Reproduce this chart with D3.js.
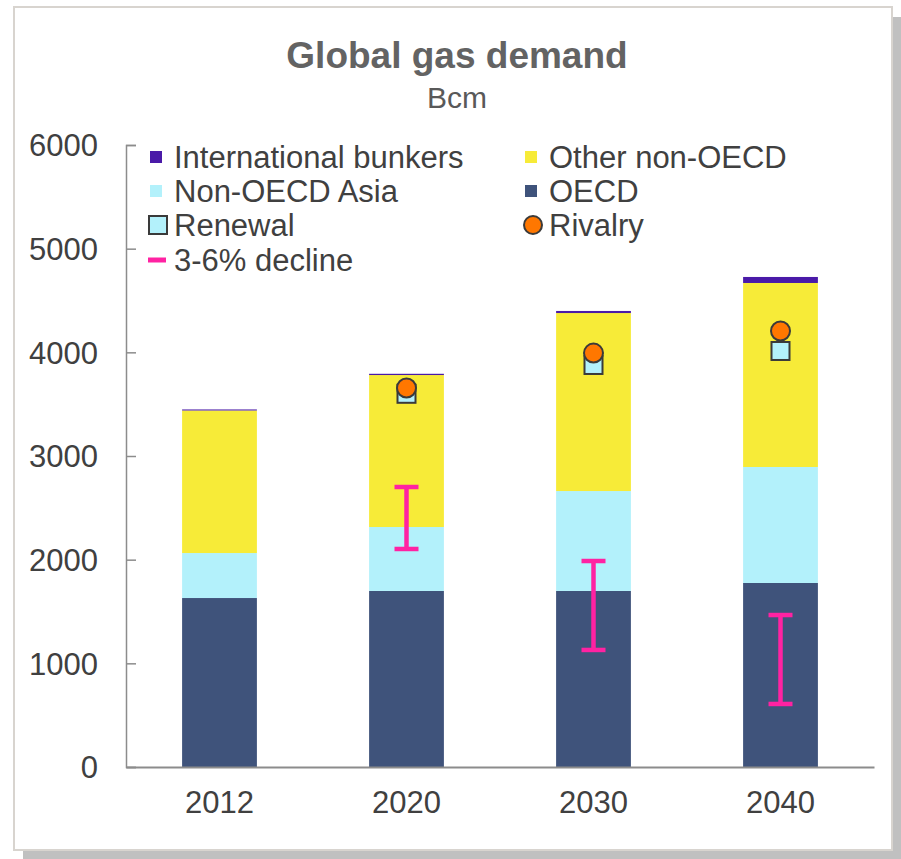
<!DOCTYPE html>
<html>
<head>
<meta charset="utf-8">
<script src="https://cdn.jsdelivr.net/npm/d3@7"></script>
<style>
  html, body { margin: 0; padding: 0; background: #ffffff; }
  svg { display: block; font-family: "Liberation Sans", Arial, sans-serif; }
</style>
</head>
<body>
<svg id="chart" width="901" height="859"></svg>
<script>
// ---- data ----
const years = ["2012", "2020", "2030", "2040"];
const oecd = [1630, 1698, 1698, 1775];
const nonOecdAsia = [434, 617, 964, 1119];
const otherNonOecd = [1375, 1466, 1717, 1775];
const bunkers = [10, 12, 20, 58];
const renewal = [null, 3600, 3878, 4013];
const rivalry = [null, 3656, 3993, 4206];
const declineLow = [null, 2103, 1129, 608];
const declineHigh = [null, 2701, 1987, 1466];
const yTicks = [0, 1000, 2000, 3000, 4000, 5000, 6000];

const seriesNames = ["OECD", "Non-OECD Asia", "Other non-OECD", "International bunkers"];
const seriesColors = ["#3f537b", "#b3f1fb", "#f7eb38", "#4a1aa8"];

const svg = d3.select("#chart");

// frame with shadow
svg.append("rect").attr("x", 23).attr("y", 17).attr("width", 878).attr("height", 842).attr("fill", "#c0c0c0");
svg.append("rect").attr("x", 14).attr("y", 7).attr("width", 878).attr("height", 843)
  .attr("fill", "#ffffff").attr("stroke", "#d8d4cf").attr("stroke-width", 2);

// title
svg.append("text").attr("x", 457).attr("y", 68).attr("text-anchor", "middle")
  .attr("font-size", 37).attr("font-weight", "bold").attr("fill", "#636363").text("Global gas demand");
svg.append("text").attr("x", 457).attr("y", 108).attr("text-anchor", "middle")
  .attr("font-size", 30).attr("fill", "#595959").text("Bcm");

// scales
const x = d3.scaleBand().domain(years).range([126, 874]).paddingInner(0.6).paddingOuter(0.3);
const y = d3.scaleLinear().domain([0, 6000]).range([767, 145]);

// stacked data
const rows = years.map((yr, i) => ({
  year: yr,
  "OECD": oecd[i],
  "Non-OECD Asia": nonOecdAsia[i],
  "Other non-OECD": otherNonOecd[i],
  "International bunkers": bunkers[i]
}));
const stack = d3.stack().keys(seriesNames)(rows);

svg.append("g").selectAll("g").data(stack).join("g")
  .attr("fill", (d, i) => seriesColors[i])
  .selectAll("rect").data(d => d).join("rect")
  .attr("x", d => x(d.data.year))
  .attr("width", x.bandwidth())
  .attr("y", d => y(d[1]))
  .attr("height", d => y(d[0]) - y(d[1]));

// axes
const yAxis = d3.axisLeft(y).tickValues(yTicks).tickSize(-10).tickPadding(28).tickFormat(d3.format("d"));
const gy = svg.append("g").attr("transform", "translate(126,0)").call(yAxis);
gy.select(".domain").attr("stroke", "#8c8c8c").attr("stroke-width", 1.5);
gy.selectAll(".tick line").attr("stroke", "#8c8c8c").attr("stroke-width", 1.5);
gy.selectAll(".tick text").attr("font-size", 31).attr("fill", "#404040")
  .attr("font-family", "Liberation Sans, Arial, sans-serif").attr("dy", "0.35em");

const xAxis = d3.axisBottom(x).tickSize(0).tickPadding(24);
const gx = svg.append("g").attr("transform", "translate(0,767)").call(xAxis);
gx.select(".domain").attr("stroke", "#8c8c8c").attr("stroke-width", 2);
gx.selectAll(".tick text").attr("font-size", 31).attr("fill", "#404040")
  .attr("font-family", "Liberation Sans, Arial, sans-serif").attr("dy", "0.71em");

// error bars (3-6% decline)
const pink = "#ff22a2";
const eb = svg.append("g").attr("stroke", pink).attr("stroke-width", 4.5);
years.forEach((yr, i) => {
  if (declineLow[i] == null) return;
  const cx = x(yr) + x.bandwidth() / 2;
  eb.append("line").attr("x1", cx).attr("x2", cx).attr("y1", y(declineHigh[i])).attr("y2", y(declineLow[i]));
  eb.append("line").attr("x1", cx - 12).attr("x2", cx + 12).attr("y1", y(declineHigh[i])).attr("y2", y(declineHigh[i]));
  eb.append("line").attr("x1", cx - 12).attr("x2", cx + 12).attr("y1", y(declineLow[i])).attr("y2", y(declineLow[i]));
});

// renewal squares
const mk = svg.append("g");
years.forEach((yr, i) => {
  if (renewal[i] == null) return;
  const cx = x(yr) + x.bandwidth() / 2;
  mk.append("rect").attr("x", cx - 9).attr("y", y(renewal[i]) - 9).attr("width", 18).attr("height", 18)
    .attr("fill", "#b3f1fb").attr("stroke", "#3a3a3a").attr("stroke-width", 2);
});
years.forEach((yr, i) => {
  if (rivalry[i] == null) return;
  const cx = x(yr) + x.bandwidth() / 2;
  mk.append("circle").attr("cx", cx).attr("cy", y(rivalry[i])).attr("r", 9.5)
    .attr("fill", "#ff7700").attr("stroke", "#3a3a3a").attr("stroke-width", 2);
});

// legend
const lg = svg.append("g").attr("font-size", 31).attr("fill", "#404040");
const legendItems = [
  { name: "International bunkers", type: "sq", color: seriesColors[3], x: 150, y: 157 },
  { name: "Other non-OECD", type: "sq", color: seriesColors[2], x: 525, y: 157 },
  { name: "Non-OECD Asia", type: "sq", color: seriesColors[1], x: 150, y: 191 },
  { name: "OECD", type: "sq", color: seriesColors[0], x: 525, y: 191 },
  { name: "Renewal", type: "box", x: 150, y: 225 },
  { name: "Rivalry", type: "circle", x: 525, y: 225 },
  { name: "3-6% decline", type: "line", x: 150, y: 260 }
];
legendItems.forEach(it => {
  if (it.type === "sq") {
    lg.append("rect").attr("x", it.x).attr("y", it.y - 6).attr("width", 12).attr("height", 12).attr("fill", it.color);
  } else if (it.type === "box") {
    lg.append("rect").attr("x", it.x - 1).attr("y", it.y - 9).attr("width", 18).attr("height", 18)
      .attr("fill", "#b3f1fb").attr("stroke", "#3a3a3a").attr("stroke-width", 2);
  } else if (it.type === "circle") {
    lg.append("circle").attr("cx", it.x + 8).attr("cy", it.y).attr("r", 9)
      .attr("fill", "#ff7700").attr("stroke", "#3a3a3a").attr("stroke-width", 2);
  } else {
    lg.append("line").attr("x1", it.x - 2).attr("x2", it.x + 16).attr("y1", it.y).attr("y2", it.y)
      .attr("stroke", pink).attr("stroke-width", 5);
  }
  lg.append("text").attr("x", it.x + 24).attr("y", it.y).attr("dy", "0.35em").text(it.name);
});
</script>
</body>
</html>
